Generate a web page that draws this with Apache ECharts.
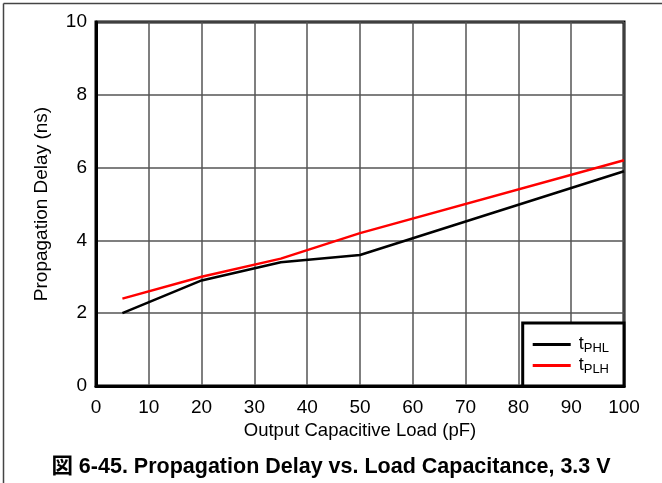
<!DOCTYPE html>
<html><head><meta charset="utf-8">
<script src="https://cdn.jsdelivr.net/npm/echarts@6/dist/echarts.min.js"></script>
<style>html,body{margin:0;padding:0;background:#fff}#c{width:662px;height:483px}</style>
</head><body><div id="c"></div>
<script>
const capacitance = [5, 20, 35, 50, 100];
const tPHL = [2.0, 2.9, 3.4, 3.6, 5.9];
const tPLH = [2.4, 3.0, 3.5, 4.2, 6.2];
const seriesNames = ['tPHL', 'tPLH'];
const xTitle = 'Output Capacitive Load (pF)';
const yTitle = 'Propagation Delay (ns)';
const caption = '図 6-45. Propagation Delay vs. Load Capacitance, 3.3 V';

const font = 'Liberation Sans, Arial, Noto Sans CJK JP, sans-serif';
const chart = echarts.init(document.getElementById('c'));
chart.setOption({
  animation: false,
  backgroundColor: '#fff',
  textStyle: { fontFamily: font },
  grid: { left: 96, right: 38, top: 22, bottom: 97, show: true, borderColor: '#000', borderWidth: 3, backgroundColor: 'transparent' },
  title: { text: caption, left: 'center', top: 451, textStyle: { fontFamily: font, fontWeight: 'bold', fontSize: 21.5, color: '#000' } },
  legend: {
    right: 38, bottom: 97, orient: 'vertical', backgroundColor: '#fff',
    borderColor: '#000', borderWidth: 3, padding: [11, 15, 10, 10],
    itemWidth: 38, itemHeight: 3, itemGap: 0,
    data: seriesNames.map(n => ({ name: n, icon: 'rect' })),
    formatter: n => '{t|t}{s|' + n.slice(1) + '}',
    textStyle: { rich: {
      t: { fontSize: 18, color: '#000', fontFamily: font, lineHeight: 20, padding: [0, 0, 0, 3] },
      s: { fontSize: 13, color: '#000', fontFamily: font, lineHeight: 20, padding: [8, 0, 0, 0] }
    } }
  },
  xAxis: {
    type: 'value', min: 0, max: 100, interval: 10,
    name: xTitle, nameLocation: 'middle', nameGap: 36,
    nameTextStyle: { fontSize: 18.5, color: '#000', fontFamily: font },
    axisLine: { show: true, lineStyle: { color: '#000', width: 3 } },
    axisTick: { show: false },
    axisLabel: { fontSize: 19, color: '#000', margin: 12 },
    splitLine: { show: true, lineStyle: { color: '#555', width: 1.5 } }
  },
  yAxis: {
    type: 'value', min: 0, max: 10, interval: 2,
    name: yTitle, nameLocation: 'middle', nameGap: 45,
    nameTextStyle: { fontSize: 19, color: '#000', fontFamily: font },
    axisLine: { show: true, lineStyle: { color: '#000', width: 3 } },
    axisTick: { show: false },
    axisLabel: { fontSize: 19, color: '#000', margin: 9 },
    splitLine: { show: true, lineStyle: { color: '#555', width: 1.5 } }
  },
  graphic: [
    { type: 'line', shape: { x1: 3.5, y1: 3.5, x2: 662, y2: 3.5 }, style: { stroke: '#444', lineWidth: 1.5 } },
    { type: 'line', shape: { x1: 3.5, y1: 3.5, x2: 3.5, y2: 483 }, style: { stroke: '#444', lineWidth: 1.5 } }
  ],
  series: [
    { name: seriesNames[0], type: 'line', symbol: 'none', data: capacitance.map((x, i) => [x, tPHL[i]]), lineStyle: { color: '#000', width: 2.5 }, itemStyle: { color: '#000' } },
    { name: seriesNames[1], type: 'line', symbol: 'none', data: capacitance.map((x, i) => [x, tPLH[i]]), lineStyle: { color: '#ff0000', width: 2.5 }, itemStyle: { color: '#ff0000' } }
  ]
});
</script></body></html>
